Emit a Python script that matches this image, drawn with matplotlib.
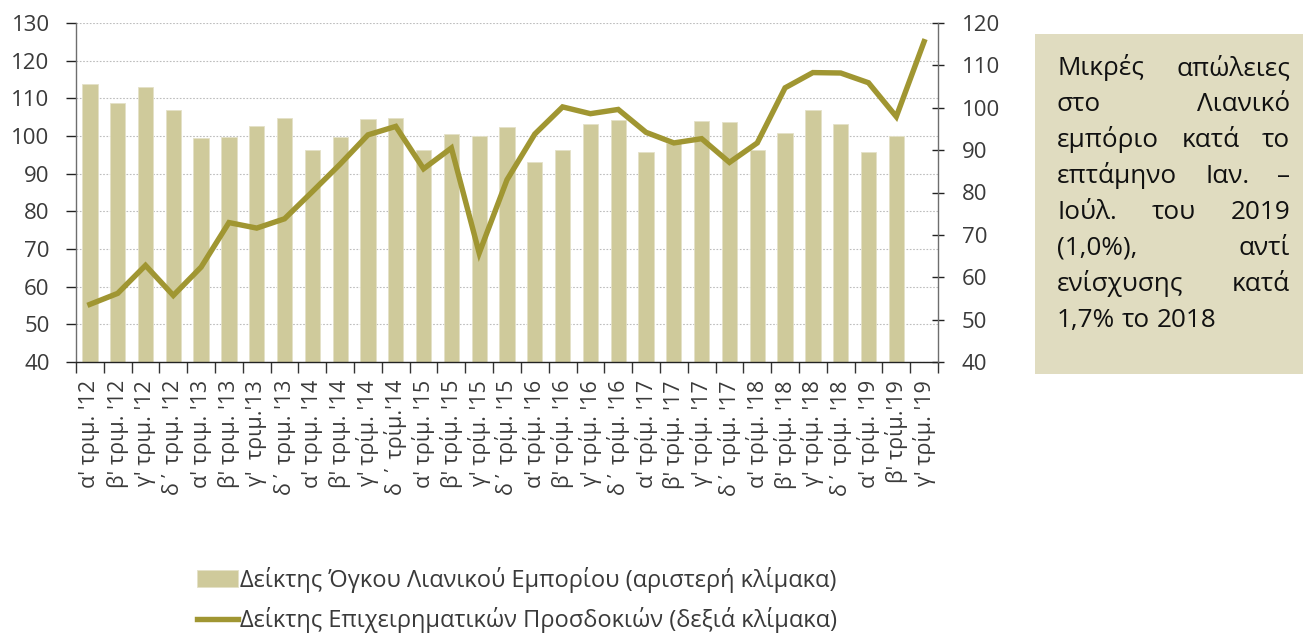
import matplotlib
matplotlib.use("Agg")
import matplotlib.pyplot as plt
from matplotlib.patches import Rectangle
from matplotlib.ticker import MultipleLocator, FixedLocator

plt.rcParams['font.family'] = ['Open Sans', 'DejaVu Sans']

categories = ["α' τριμ. '12", "β' τριμ. '12", "γ' τριμ. '12", "δ΄ τριμ. '12",
              "α' τριμ. '13", "β' τριμ. '13", "γ'  τριμ.'13", "δ΄ τριμ. '13",
              "α' τριμ. '14", "β' τριμ. '14", "γ' τρίμ. '14", "δ ΄ τρίμ.'14",
              "α' τρίμ. '15", "β' τρίμ. '15", "γ' τρίμ. '15", "δ΄ τρίμ. '15",
              "α' τρίμ. '16", "β' τρίμ. '16", "γ' τρίμ. '16", "δ΄ τρίμ. '16",
              "α' τρίμ. '17", "β' τρίμ. '17", "γ' τρίμ. '17", "δ΄ τρίμ. '17",
              "α' τρίμ. '18", "β' τρίμ. '18", "γ' τρίμ. '18", "δ΄ τρίμ. '18",
              "α' τρίμ. '19", "β' τρίμ.'19", "γ' τρίμ. '19"]

retail_volume = [113.7, 108.8, 112.9, 106.8, 99.5, 99.7, 102.7, 104.9,
                 96.3, 99.8, 104.4, 104.7, 96.3, 100.4, 99.9, 102.5,
                 93.1, 96.4, 103.1, 104.2, 95.8, 98.1, 103.9, 103.6,
                 96.4, 100.8, 107.0, 103.3, 95.8, 100.0]

business_expect = [53.6, 56.2, 62.8, 55.7, 62.4, 72.9, 71.6, 73.8,
                   80.2, 86.7, 93.6, 95.6, 85.6, 90.5, 65.7, 83.0,
                   93.8, 100.2, 98.6, 99.6, 94.2, 91.7, 92.7, 87.1,
                   91.7, 104.7, 108.3, 108.2, 105.9, 97.9, 115.6]

label_bar = "Δείκτης Όγκου Λιανικού Εμπορίου (αριστερή κλίμακα)"
label_line = "Δείκτης Επιχειρηματικών Προσδοκιών (δεξιά κλίμακα)"

note_lines = ["Μικρές απώλειες", "στο Λιανικό", "εμπόριο κατά το",
              "επτάμηνο Ιαν. –", "Ιούλ. του 2019", "(1,0%), αντί",
              "ενίσχυσης κατά", "1,7% το 2018"]

W, H = 1303, 634
fig = plt.figure(figsize=(W / 100, H / 100), dpi=100)
ax = fig.add_axes([76 / W, 1 - 362 / H, (938 - 76) / W, (362 - 23) / H])
ax2 = ax.twinx()

bar_color = '#cfca9b'
line_color = '#a09632'
text_color = '#3a3a3a'

x = list(range(len(categories)))
bars = ax.bar(x[:len(retail_volume)], retail_volume, width=0.55, color=bar_color,
              edgecolor='#e4e1c8', linewidth=0.6, zorder=2, label=label_bar)
line, = ax2.plot(x, business_expect, color=line_color, lw=3.9, zorder=3,
                 solid_joinstyle='miter', label=label_line)

ax.set_xlim(-0.5, len(categories) - 0.5)
ax.set_ylim(40, 130)
ax2.set_ylim(40, 120)
ax.yaxis.set_major_locator(MultipleLocator(10))
ax2.yaxis.set_major_locator(MultipleLocator(10))

ax.grid(axis='y', color='#bdbdbd', linestyle=(0, (1.5, 1.5)), linewidth=0.8, zorder=0)
ax.set_axisbelow(True)

ax.set_xticks(x)
ax.set_xticklabels(categories, rotation=90, fontsize=15.5, color=text_color)
ax.xaxis.set_minor_locator(FixedLocator([i - 0.5 for i in range(len(categories) + 1)]))
ax.tick_params(axis='x', which='major', length=0, pad=13)
ax.tick_params(axis='x', which='minor', length=8, width=1, color='#333333', direction='out')

ax.tick_params(axis='y', labelsize=16, length=7, width=1, color='#222222',
               pad=12, labelcolor=text_color)
ax2.tick_params(axis='y', labelsize=16, length=8, width=1, color='#222222',
                direction='inout', pad=13, labelcolor=text_color)

for a in (ax, ax2):
    a.spines['top'].set_visible(False)
ax.spines['right'].set_visible(False)
ax2.spines['left'].set_visible(False)
ax2.spines['bottom'].set_visible(False)
ax.spines['left'].set_color('#6e6e6e')
ax2.spines['right'].set_color('#6e6e6e')
ax.spines['bottom'].set_color('#222222')
for s in ('left', 'bottom'):
    ax.spines[s].set_linewidth(1.0)
ax2.spines['right'].set_linewidth(1.0)

leg = fig.legend([bars, line], [label_bar, label_line], loc='upper left',
                 bbox_to_anchor=(197 / W, 1 - 567 / H), frameon=False,
                 fontsize=17, handlelength=1.75, handletextpad=0.08,
                 labelspacing=0.6, borderpad=0, borderaxespad=0)
for t in leg.get_texts():
    t.set_color(text_color)

# note box
fig.patches.append(Rectangle((1035 / W, 1 - 374 / H), (W - 1035) / W, (374 - 34) / H,
                             transform=fig.transFigure, facecolor='#e0dcc0',
                             edgecolor='none', zorder=0))
renderer = fig.canvas.get_renderer()
tl, tr = 1057, 1290
base0, step = 75, 36
fs = 18.8
for li, ln in enumerate(note_lines):
    words = ln.split(' ')
    y = 1 - (base0 + li * step) / H
    objs = [fig.text(0, y, w, fontsize=fs, color='#111111', va='baseline', ha='left')
            for w in words]
    widths = [o.get_window_extent(renderer).width for o in objs]
    if li == len(note_lines) - 1 or len(words) == 1:
        sp = fig.text(0, 0, 'a a', fontsize=fs).get_window_extent(renderer).width - \
             fig.text(0, 0, 'aa', fontsize=fs).get_window_extent(renderer).width
        for t in fig.texts[-2:]:
            t.remove()
        pos = tl
        for o, wd in zip(objs, widths):
            o.set_x(pos / W)
            pos += wd + sp
    else:
        gap = (tr - tl - sum(widths)) / (len(words) - 1)
        pos = tl
        for o, wd in zip(objs, widths):
            o.set_x(pos / W)
            pos += wd + gap

fig.savefig('out.png', dpi=100)
